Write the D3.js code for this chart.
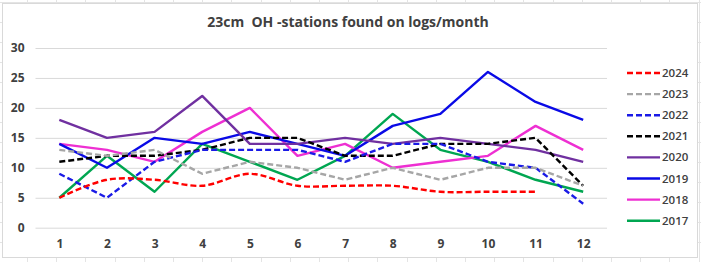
<!DOCTYPE html>
<html>
<head>
<meta charset="utf-8">
<script src="https://cdn.jsdelivr.net/npm/d3@7"></script>
<style>
  html, body { margin: 0; padding: 0; background: #fff; }
  svg { display: block; font-family: 'Open Sans', 'Noto Sans', sans-serif; }
</style>
</head>
<body>
<div id="chart"></div>
<script>
// months on the x axis
const months = [1, 2, 3, 4, 5, 6, 7, 8, 9, 10, 11, 12];
const yTicks = [0, 5, 10, 15, 20, 25, 30];

// stations found per month, one array per year
const y2024 = [5, 8, 8, 7, 9, 7, 7, 7, 6, 6, 6];
const y2023 = [13, 12, 13, 9, 11, 10, 8, 10, 8, 10, 10, 7];
const y2022 = [9, 5, 11, 13, 13, 13, 11, 14, 14, 11, 10, 4];
const y2021 = [11, 12, 12, 13, 15, 15, 12, 12, 14, 14, 15, 7];
const y2020 = [18, 15, 16, 22, 14, 14, 15, 14, 15, 14, 13, 11];
const y2019 = [14, 10, 15, 14, 16, 14, 12, 17, 19, 26, 21, 18];
const y2018 = [14, 13, 11, 16, 20, 12, 14, 10, 11, 12, 17, 13];
const y2017 = [5, 12, 6, 14, 11, 8, 12, 19, 13, 11, 8, 6];

const series = [
  { name: '2024', values: y2024, color: '#ff0000', dashed: true, smooth: true },
  { name: '2023', values: y2023, color: '#a6a6a6', dashed: true },
  { name: '2022', values: y2022, color: '#1a1ae6', dashed: true },
  { name: '2021', values: y2021, color: '#000000', dashed: true },
  { name: '2020', values: y2020, color: '#7030a0' },
  { name: '2019', values: y2019, color: '#0a0ae6' },
  { name: '2018', values: y2018, color: '#ee2fd2' },
  { name: '2017', values: y2017, color: '#00a651' },
];

const width = 701;
const height = 262;
const margin = { top: 48, right: 94, bottom: 34, left: 35.5 };

const svg = d3.select('#chart')
  .append('svg')
  .attr('width', width)
  .attr('height', height);

// faint spreadsheet cells behind the chart
const cells = svg.append('g').attr('stroke', '#e4e4e4').attr('stroke-width', 1);
for (let x = 27; x < width; x += 29.2) {
  cells.append('line').attr('x1', Math.round(x) + 0.5).attr('x2', Math.round(x) + 0.5).attr('y1', 0).attr('y2', height);
}
for (let y = 2; y < height; y += 20) {
  cells.append('line').attr('x1', 0).attr('x2', width).attr('y1', y + 0.5).attr('y2', y + 0.5);
}

// chart area
svg.append('rect')
  .attr('x', 2.5).attr('y', 3.5)
  .attr('width', 695).attr('height', 254)
  .attr('fill', '#fff')
  .attr('stroke', '#d9d9d9');

const x = d3.scalePoint()
  .domain(months)
  .range([margin.left, width - margin.right])
  .padding(0.5);

const y = d3.scaleLinear()
  .domain([0, 30])
  .range([height - margin.bottom - 0.3, margin.top]);

// title
svg.append('text')
  .attr('x', 348)
  .attr('y', 27)
  .attr('text-anchor', 'middle')
  .attr('font-size', 14)
  .attr('font-weight', 700)
  .attr('fill', '#404040')
  .attr('xml:space', 'preserve')
  .text('23cm  OH -stations found on logs/month');

// y gridlines + labels
const yAxis = d3.axisLeft(y)
  .tickValues(yTicks)
  .tickSize(-(width - margin.right - margin.left))
  .tickPadding(11);

svg.append('g')
  .attr('transform', `translate(${margin.left},0)`)
  .call(yAxis)
  .call(g => g.select('.domain').remove())
  .call(g => g.selectAll('.tick line').attr('stroke', '#d9d9d9'))
  .call(g => g.selectAll('.tick text')
    .attr('font-size', 12)
    .attr('font-weight', 700)
    .attr('fill', '#404040')
    .attr('font-family', "'Open Sans', sans-serif"));

// x labels
const xAxis = d3.axisBottom(x).tickSize(0).tickPadding(12);
svg.append('g')
  .attr('transform', `translate(0,${y(0)})`)
  .call(xAxis)
  .call(g => g.select('.domain').remove())
  .call(g => g.selectAll('.tick text')
    .attr('font-size', 12)
    .attr('font-weight', 700)
    .attr('fill', '#404040')
    .attr('font-family', "'Open Sans', sans-serif"));

// lines (draw 2017 first so 2024 ends up on top)
const lines = svg.append('g').attr('fill', 'none');
series.slice().reverse().forEach(s => {
  const line = d3.line()
    .x((d, i) => x(months[i]))
    .y(d => y(d))
    .curve(s.smooth ? d3.curveCatmullRom.alpha(0.5) : d3.curveLinear);
  lines.append('path')
    .datum(s.values)
    .attr('d', line)
    .attr('stroke', s.color)
    .attr('stroke-width', 2.4)
    .attr('stroke-linejoin', 'round')
    .attr('stroke-dasharray', s.dashed ? '6,3' : null);
});

// legend
const legend = svg.append('g').attr('transform', 'translate(627,73)');
series.forEach((s, i) => {
  const row = legend.append('g').attr('transform', `translate(0,${i * 21.1})`);
  row.append('line')
    .attr('x1', 0).attr('x2', 33)
    .attr('stroke', s.color)
    .attr('stroke-width', 2.4)
    .attr('stroke-dasharray', s.dashed ? '6,3' : null);
  row.append('text')
    .attr('x', 35)
    .attr('dy', '0.35em')
    .attr('font-size', 11.5)
    .attr('font-weight', 600)
    .attr('fill', '#404040')
    .text(s.name);
});
</script>
</body>
</html>
